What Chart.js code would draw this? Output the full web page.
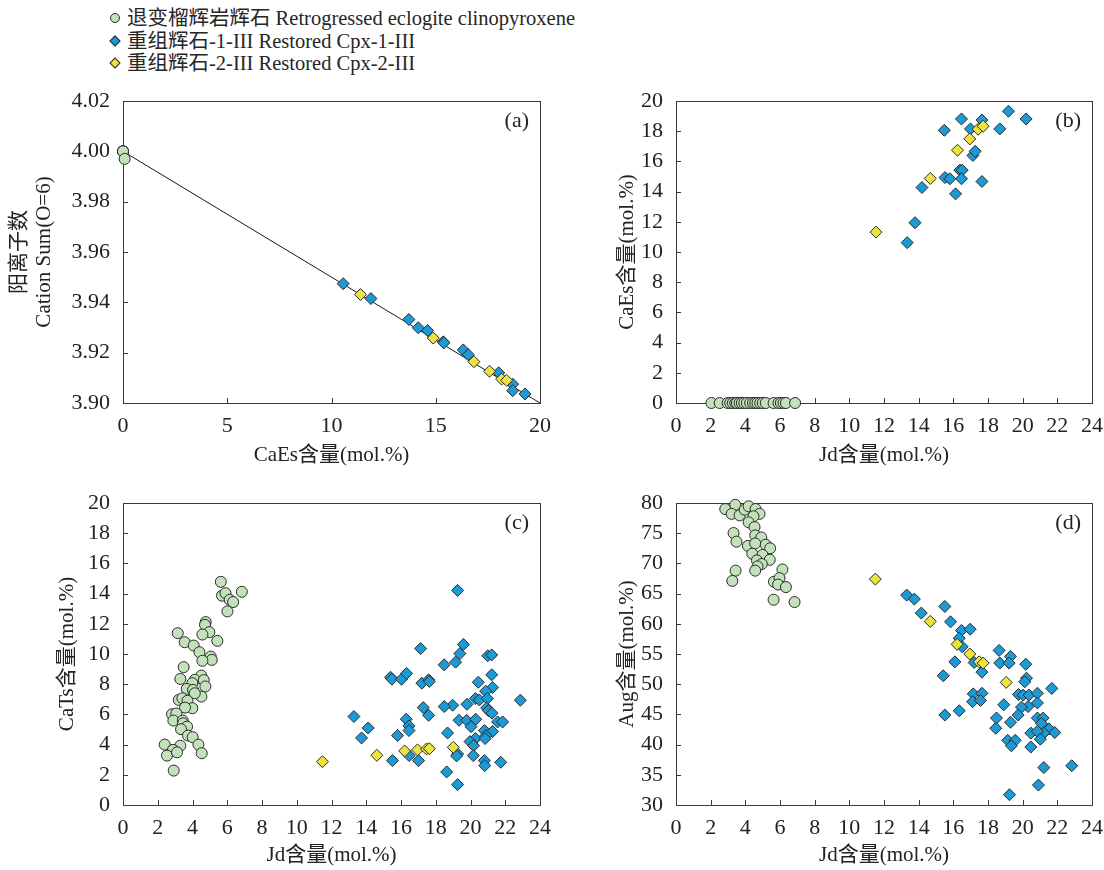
<!DOCTYPE html>
<html>
<head>
<meta charset="utf-8">
<script src="https://cdn.jsdelivr.net/npm/chart.js@4.4.1/dist/chart.umd.min.js"></script>
<style>
  body { margin: 0; background: #fff; width: 1104px; height: 870px; position: relative; overflow: hidden;
         font-family: "Liberation Serif", "Noto Sans CJK SC", serif; color: #262626; }
  canvas { position: absolute; }
  #legend { position: absolute; left: 110px; top: 7px; font-size: 20.5px; line-height: 22.5px; white-space: nowrap; }
  #legend div { display: flex; align-items: center; }
  .mk { display: inline-block; margin-right: 7px; border: 1px solid #2b2b2b; box-sizing: border-box; }
  .mk.c { width: 10px; height: 10px; border-radius: 50%; background: #c3e2bb; }
  .mk.d { width: 8px; height: 8px; transform: rotate(45deg); margin-left: 1px; margin-right: 8px; }
</style>
</head>
<body>
<div id="legend">
  <div><span class="mk c"></span>退变榴辉岩辉石 Retrogressed eclogite clinopyroxene</div>
  <div><span class="mk d" style="background:#1c9ad6"></span>重组辉石-1-III Restored Cpx-1-III</div>
  <div><span class="mk d" style="background:#ece33e"></span>重组辉石-2-III Restored Cpx-2-III</div>
</div>
<canvas id="chartA" width="560" height="390" style="left:0;top:80px"></canvas>
<canvas id="chartB" width="544" height="390" style="left:560px;top:80px"></canvas>
<canvas id="chartC" width="560" height="400" style="left:0;top:470px"></canvas>
<canvas id="chartD" width="544" height="400" style="left:560px;top:470px"></canvas>
<script>
// (a) CaEs - 阳离子数
const aGreenCaEs  = [0, 0, 0, 0, 0.08];
const aGreenSum   = [4.000, 4.000, 4.000, 4.000, 3.997];
const aBlueCaEs   = [10.56, 11.89, 13.71, 14.16, 14.61, 15.36, 15.39, 16.32, 16.56, 18.02, 18.69, 18.69, 19.28];
const aBlueSum    = [3.9474, 3.9415, 3.9332, 3.9299, 3.9288, 3.9243, 3.9239, 3.9211, 3.9192, 3.9120, 3.9075, 3.9049, 3.9036];
const aYellowCaEs = [11.39, 14.88, 16.83, 17.58, 18.16, 18.40];
const aYellowSum  = [3.9431, 3.9258, 3.9164, 3.9126, 3.9095, 3.9090];
const aLineCaEs   = [0, 20];
const aLineSum    = [4.00, 3.90];

// (b) Jd - CaEs
const bGreenJd    = [2.04, 2.52, 2.98, 3.13, 3.28, 3.42, 3.51, 3.67, 3.80, 3.94, 4.09, 4.28, 4.44, 4.57, 4.70, 4.86, 5.01, 5.18, 5.63, 5.91, 6.05, 6.20, 6.34, 6.87];
const bGreenCaEs  = [0, 0, 0, 0, 0, 0, 0, 0, 0, 0, 0, 0, 0, 0, 0, 0, 0, 0, 0, 0, 0, 0, 0, 0];
const bBlueJd     = [13.34, 13.79, 14.19, 15.48, 15.52, 15.80, 16.13, 16.38, 16.51, 16.47, 16.47, 16.99, 17.13, 17.26, 17.65, 17.65, 18.68, 19.18, 20.20];
const bBlueCaEs   = [10.62, 11.94, 14.27, 18.06, 14.93, 14.85, 13.85, 15.42, 15.42, 14.85, 18.81, 18.15, 16.39, 16.67, 18.74, 14.67, 18.15, 19.32, 18.81];
const bYellowJd   = [11.54, 14.67, 16.24, 16.95, 17.43, 17.72];
const bYellowCaEs = [11.32, 14.87, 16.74, 17.49, 18.13, 18.33];

// (c) Jd - CaTs
const cGreenJd    = [5.63, 5.70, 5.90, 6.84, 6.14, 6.34, 6.01, 4.76, 4.72, 4.97, 4.57, 3.15, 3.55, 5.43, 4.07, 4.40, 5.05, 5.11, 4.57, 3.49, 3.30, 4.51, 4.13, 3.99, 4.65, 4.74, 3.67, 4.03, 4.51, 4.13, 3.21, 3.42, 3.71, 3.99, 3.57, 2.82, 3.07, 2.90, 3.44, 3.46, 3.69, 3.34, 3.74, 4.01, 4.34, 3.30, 2.40, 2.88, 2.53, 3.11, 4.53, 2.92];
const cGreenCaTs  = [14.78, 13.86, 14.03, 14.12, 13.59, 13.44, 12.82, 12.11, 11.93, 11.45, 11.29, 11.38, 10.78, 10.87, 10.56, 10.12, 9.83, 9.61, 9.55, 9.13, 8.35, 8.57, 8.29, 8.07, 8.27, 7.85, 7.69, 7.62, 7.18, 7.40, 6.96, 7.07, 6.90, 6.41, 6.45, 6.01, 6.06, 5.59, 5.59, 5.41, 5.19, 5.02, 4.60, 4.49, 4.00, 3.93, 4.00, 3.65, 3.27, 3.49, 3.43, 2.28];
const cBlueJd     = [19.26, 17.13, 19.59, 19.39, 20.99, 21.22, 18.49, 19.14, 15.40, 15.48, 16.03, 16.32, 17.20, 17.59, 17.63, 20.45, 21.22, 21.27, 20.87, 20.28, 20.51, 20.97, 22.87, 19.80, 18.97, 18.49, 17.28, 20.93, 21.03, 21.24, 13.29, 16.30, 17.59, 19.34, 19.78, 20.30, 20.03, 21.56, 21.85, 16.46, 14.11, 16.46, 20.80, 18.68, 21.27, 20.89, 15.80, 13.73, 20.28, 20.84, 19.97, 20.18, 19.26, 19.20, 16.47, 20.16, 15.51, 17.01, 20.80, 21.74, 20.82, 18.63, 19.26];
const cBlueCaTs   = [14.21, 10.36, 10.63, 10.03, 9.88, 9.94, 9.28, 9.46, 8.46, 8.33, 8.33, 8.71, 8.07, 8.29, 8.18, 8.13, 8.62, 7.78, 7.54, 7.05, 6.96, 7.05, 6.94, 6.67, 6.61, 6.52, 6.45, 6.43, 6.25, 6.08, 5.86, 5.68, 5.94, 5.61, 5.61, 5.68, 5.19, 5.50, 5.50, 5.24, 5.10, 4.93, 4.93, 4.77, 4.86, 4.60, 4.60, 4.44, 4.40, 4.40, 4.20, 3.93, 3.38, 3.25, 3.27, 3.27, 2.94, 2.94, 2.94, 2.83, 2.61, 2.19, 1.35];
const cYellowJd   = [11.48, 14.61, 16.21, 16.95, 17.47, 17.63, 19.01];
const cYellowCaTs = [2.87, 3.29, 3.58, 3.65, 3.71, 3.73, 3.82];

// (d) Jd - Aug
const dGreenJd    = [2.84, 3.42, 3.21, 3.67, 3.96, 4.19, 4.59, 4.82, 4.47, 4.19, 4.53, 3.32, 4.57, 4.92, 3.49, 4.15, 4.57, 5.18, 5.43, 4.40, 4.99, 4.67, 5.41, 4.95, 4.70, 4.57, 3.44, 6.14, 3.25, 5.65, 5.97, 5.89, 6.34, 5.63, 6.84];
const dGreenAug   = [79.0, 79.7, 78.2, 77.96, 78.9, 79.45, 79.0, 78.2, 77.8, 76.8, 76.0, 75.03, 74.64, 74.3, 73.6, 72.9, 73.3, 73.1, 72.5, 71.6, 71.4, 70.5, 70.6, 69.9, 69.5, 68.8, 68.8, 69.0, 67.1, 66.96, 67.57, 66.5, 66.08, 63.98, 63.6];
const dBlueJd     = [13.31, 13.75, 14.15, 15.51, 15.84, 16.47, 16.97, 16.34, 16.51, 16.09, 17.20, 17.65, 18.64, 18.68, 19.30, 19.22, 20.18, 20.22, 20.12, 15.42, 21.68, 17.15, 17.65, 17.11, 17.57, 19.76, 20.03, 20.37, 20.85, 20.85, 20.31, 19.93, 18.91, 19.74, 15.51, 16.34, 18.49, 20.85, 21.18, 19.30, 21.08, 18.45, 21.52, 21.85, 21.22, 20.47, 20.85, 21.02, 19.14, 19.57, 19.35, 20.47, 21.22, 22.83, 20.91, 19.24];
const dBlueAug    = [64.75, 64.09, 61.77, 62.87, 60.33, 58.9, 59.1, 57.6, 56.2, 53.7, 53.6, 52.0, 55.6, 53.5, 54.6, 53.5, 53.3, 51.0, 50.4, 51.4, 49.3, 48.4, 48.5, 47.1, 47.3, 48.3, 48.2, 48.2, 48.5, 46.9, 46.3, 46.2, 46.6, 44.9, 44.9, 45.6, 44.4, 44.4, 44.4, 43.7, 43.5, 42.7, 42.6, 42.0, 41.9, 41.9, 42.2, 40.9, 40.7, 40.7, 39.8, 39.6, 36.2, 36.5, 33.3, 31.7];
const dYellowJd   = [11.50, 14.67, 16.22, 16.95, 17.49, 17.72, 19.05];
const dYellowAug  = [67.4, 60.4, 56.6, 55.0, 53.7, 53.5, 50.3];

// 스타일
const FONT = '"Liberation Serif", "Noto Sans CJK SC", serif';
const INK  = '#222222';
const LINE = '#3a3a3a';
const C = {
  green:  '#c3e2bb',
  blue:   '#1c9ad6',
  yellow: '#ece33e',
  edge:   '#2b2b2b',
};
const TICK_FONT  = { size: 22, family: FONT };
const TITLE_FONT = { size: 21, family: FONT };

Chart.defaults.font.family = FONT;
Chart.defaults.font.size = 21;
Chart.defaults.color = INK;

const pts = (xs, ys) => xs.map((x, i) => ({ x, y: ys[i] }));

function series(xs, ys, kind) {
  const round = kind === 'green';
  return {
    data: pts(xs, ys),
    pointStyle: round ? 'circle' : 'rectRot',
    pointRadius: round ? 5.5 : 6,
    pointHoverRadius: round ? 5.5 : 6,
    pointBackgroundColor: C[kind],
    pointBorderColor: C.edge,
    pointBorderWidth: 1,
    showLine: false,
    clip: false,
    order: kind === 'yellow' ? 1 : kind === 'blue' ? 2 : 3,
  };
}

// 축 여백 제거 (layout.padding 으로만 맞춤)
function noPad(s) {
  s.paddingLeft = 0; s.paddingRight = 0; s.paddingTop = 0; s.paddingBottom = 0;
}

// 테두리 + 안쪽 눈금 + 패널 라벨
const frame = {
  id: 'frame',
  beforeDatasetsDraw(chart, args, opts) {
    const { ctx, chartArea: a, scales: { x, y } } = chart;
    ctx.save();
    ctx.strokeStyle = LINE;
    ctx.lineWidth = 1;
    ctx.strokeRect(Math.round(a.left) + 0.5, Math.round(a.top) + 0.5, Math.round(a.width), Math.round(a.height));
    ctx.beginPath();
    x.ticks.forEach(t => {
      const px = Math.round(x.getPixelForValue(t.value)) + 0.5;
      ctx.moveTo(px, a.bottom); ctx.lineTo(px, a.bottom - 5);
    });
    y.ticks.forEach(t => {
      const py = Math.round(y.getPixelForValue(t.value)) + 0.5;
      ctx.moveTo(a.left, py); ctx.lineTo(a.left + 5, py);
    });
    ctx.stroke();
    ctx.fillStyle = INK;
    ctx.font = '22px ' + FONT;
    ctx.textAlign = 'right';
    ctx.textBaseline = 'middle';
    ctx.fillText(opts.tag, a.right - 11, a.top + 20);
    ctx.restore();
  }
};

function makeChart(id, cfg) {
  return new Chart(document.getElementById(id), {
    type: 'scatter',
    data: { datasets: cfg.datasets },
    plugins: [frame],
    options: {
      responsive: false,
      animation: false,
      events: [],
      layout: { padding: cfg.padding },
      plugins: { legend: { display: false }, tooltip: { enabled: false }, frame: { tag: cfg.tag } },
      scales: {
        x: {
          type: 'linear', min: cfg.x[0], max: cfg.x[1],
          grid: { display: false, drawTicks: false },
          border: { display: false },
          ticks: { stepSize: cfg.x[2], padding: 10, maxRotation: 0, autoSkip: false, color: INK, font: TICK_FONT },
          title: { display: true, text: cfg.xTitle, color: INK, font: TITLE_FONT, padding: { top: 0, bottom: cfg.xTitlePad } },
          afterFit: s => { s.height = cfg.xHeight; noPad(s); }
        },
        y: {
          type: 'linear', min: cfg.y[0], max: cfg.y[1],
          grid: { display: false, drawTicks: false },
          border: { display: false },
          ticks: { stepSize: cfg.y[2], padding: 13, color: INK, font: TICK_FONT, callback: v => v.toFixed(cfg.y[3]) },
          title: { display: true, text: cfg.yTitle, color: INK, font: TITLE_FONT, padding: { top: cfg.yTitlePad, bottom: 0 } },
          afterFit: s => { s.width = cfg.yWidth; noPad(s); }
        }
      }
    }
  });
}

// ── (a) ──
makeChart('chartA', {
  tag: '(a)',
  padding: { top: 21, right: 20, bottom: 0, left: 0 },
  x: [0, 20, 5], y: [3.90, 4.02, 0.02, 2],
  xTitle: 'CaEs含量(mol.%)', xTitlePad: 2, xHeight: 67,
  yTitle: ['阳离子数', 'Cation Sum(O=6)'], yTitlePad: 7, yWidth: 123,
  datasets: [
    {
      type: 'line', data: pts(aLineCaEs, aLineSum),
      borderColor: '#1a1a1a', borderWidth: 1, pointRadius: 0, fill: false, order: 4,
    },
    series(aGreenCaEs, aGreenSum, 'green'),
    series(aBlueCaEs, aBlueSum, 'blue'),
    series(aYellowCaEs, aYellowSum, 'yellow'),
  ]
});

// ── (b) ──
makeChart('chartB', {
  tag: '(b)',
  padding: { top: 21, right: 12, bottom: 0, left: 0 },
  x: [0, 24, 2], y: [0, 20, 2, 0],
  xTitle: 'Jd含量(mol.%)', xTitlePad: 2, xHeight: 67,
  yTitle: 'CaEs含量(mol.%)', yTitlePad: 55, yWidth: 116,
  datasets: [
    series(bGreenJd, bGreenCaEs, 'green'),
    series(bBlueJd, bBlueCaEs, 'blue'),
    series(bYellowJd, bYellowCaEs, 'yellow'),
  ]
});

// ── (c) ──
makeChart('chartC', {
  tag: '(c)',
  padding: { top: 33, right: 20, bottom: 0, left: 0 },
  x: [0, 24, 2], y: [0, 20, 2, 0],
  xTitle: 'Jd含量(mol.%)', xTitlePad: 2, xHeight: 65,
  yTitle: 'CaTs含量(mol.%)', yTitlePad: 55, yWidth: 123,
  datasets: [
    series(cGreenJd, cGreenCaTs, 'green'),
    series(cBlueJd, cBlueCaTs, 'blue'),
    series(cYellowJd, cYellowCaTs, 'yellow'),
  ]
});

// ── (d) ──
makeChart('chartD', {
  tag: '(d)',
  padding: { top: 33, right: 12, bottom: 0, left: 0 },
  x: [0, 24, 2], y: [30, 80, 5, 0],
  xTitle: 'Jd含量(mol.%)', xTitlePad: 2, xHeight: 65,
  yTitle: 'Aug含量(mol.%)', yTitlePad: 55, yWidth: 116,
  datasets: [
    series(dGreenJd, dGreenAug, 'green'),
    series(dBlueJd, dBlueAug, 'blue'),
    series(dYellowJd, dYellowAug, 'yellow'),
  ]
});
</script>
</body>
</html>
